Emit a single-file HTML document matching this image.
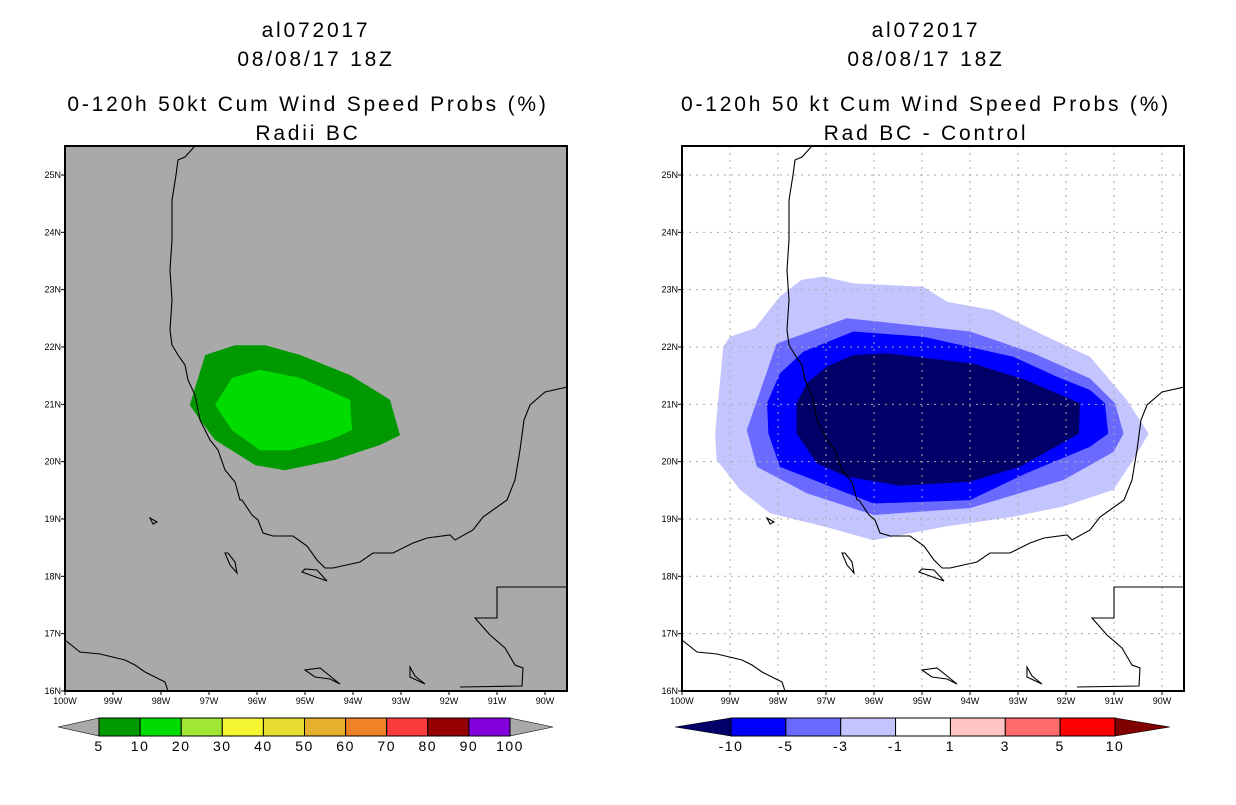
<!DOCTYPE html>
<html><head><meta charset="utf-8">
<style>
body{margin:0;background:#fff;width:1236px;height:800px;overflow:hidden;font-family:"Liberation Sans",sans-serif;}
svg text{font-family:"Liberation Sans",sans-serif;}
</style></head>
<body>
<svg id="root" width="1236" height="800" xmlns="http://www.w3.org/2000/svg">
<g font-size="21" letter-spacing="2.8" text-anchor="middle" fill="#000">
<text x="316" y="37">al072017</text>
<text x="316" y="66">08/08/17 18Z</text>
<text x="308" y="111">0-120h 50kt Cum Wind Speed Probs (%)</text>
<text x="308" y="140">Radii BC</text>
</g>
<g font-size="21" letter-spacing="2.8" text-anchor="middle" fill="#000">
<text x="926" y="37">al072017</text>
<text x="926" y="66">08/08/17 18Z</text>
<text x="926" y="111">0-120h 50 kt Cum Wind Speed Probs (%)</text>
<text x="926" y="140">Rad BC - Control</text>
</g>
<g id="left"></g>
<g id="right"></g>
<g id="cbl"></g>
<g id="cbr"></g>
</svg>
<script>
// Contour data (lon degrees W, lat degrees N)
const leftOuterLon=[97.4,97.08,96.46,95.83,95.1,94.06,93.23,93.02,93.44,94.38,95.42,96.04,96.875,97.19];
const leftOuterLat=[20.99,21.86,22.03,22.03,21.86,21.51,21.08,20.46,20.29,20.03,19.85,19.94,20.38,20.73];
const leftInnerLon=[96.875,96.52,95.94,95.1,94.06,94.02,94.48,95.31,95.94,96.52];
const leftInnerLat=[20.99,21.46,21.6,21.46,21.08,20.55,20.38,20.2,20.2,20.55];
const r1Lon=[99.31,99.14,99.0,98.48,97.96,97.51,97.05,96.43,94.97,94.48,93.51,92.40,91.5,90.73,90.28,90.6,91.01,92.05,93.1,94.49,96.01,97.05,98.17,98.79,99.28];
const r1Lat=[20.49,22.01,22.18,22.33,22.88,23.17,23.23,23.11,23.05,22.79,22.64,22.18,21.83,21.07,20.49,20.03,19.51,19.22,19.04,18.87,18.63,18.87,19.1,19.51,20.03];
const r2Lon=[98.65,98.03,96.57,95.87,94.0,92.68,91.5,90.98,90.8,91.01,92.05,94.0,96.01,97.4,98.44];
const r2Lat=[20.55,22.06,22.5,22.44,22.27,21.89,21.45,21.02,20.49,20.17,19.68,19.19,19.07,19.45,19.91];
const r3Lon=[98.23,97.96,97.47,96.43,94.97,93.1,92.19,91.5,91.19,91.12,91.5,92.82,94.0,96.01,97.96,98.2];
const r3Lat=[21.02,21.54,21.92,22.27,22.18,21.83,21.48,21.25,21.02,20.49,20.26,19.8,19.33,19.27,19.91,20.49];
const r4Lon=[97.61,97.4,96.98,96.43,95.73,93.93,92.82,91.71,91.73,92.96,94.0,95.46,96.57,97.19,97.61];
const r4Lat=[21.02,21.37,21.66,21.86,21.89,21.71,21.42,21.02,20.49,19.91,19.65,19.58,19.74,19.97,20.49];
const latTicks=[25,24,23,22,21,20,19,18,17,16];
const lonTicks=[100,99,98,97,96,95,94,93,92,91,90];
const leftLevels=["5","10","20","30","40","50","60","70","80","90","100"];
const leftColors=["#009a00","#00dc00","#a0e632","#f5f532","#e6dc32","#e6af2d","#f08228","#fa3c3c","#960000","#8200dc"];
const rightLevels=["-10","-5","-3","-1","1","3","5","10"];
const rightColors=["#0000ff","#6a6aff","#c4c4ff","#ffffff","#ffc4c4","#ff6a6a","#ff0000"];

const NS="http://www.w3.org/2000/svg";
function mk(tag,attrs,parent){const e=document.createElementNS(NS,tag);for(const k in attrs)e.setAttribute(k,attrs[k]);parent.appendChild(e);return e;}
const W=502,H=545,PX=48.0,PY=57.33;
function xs(lon){return (100-lon)*PX;}
function ys(lat){return 29+(25-lat)*PY;}
function poly(lons,lats){return lons.map((l,i)=>xs(l).toFixed(1)+","+ys(lats[i]).toFixed(1)).join(" ");}
const coast="M130,0 L120,11 L113,14 L111,29 L107,54 L107,94 L105,124 L107,154 L105,184 L107,199 L113,209 L120,219 L123,234 L130,249 L135,274 L145,294 L153,304 L160,324 L170,336 L175,354 L177,354 L187,369 L193,374 L198,387 L208,390 L228,390 L242,400 L252,414 L260,422 L268,422 L295,416 L308,407 L328,407 L348,397 L362,392 L385,389 L390,394 L408,384 L418,371 L442,354 L450,334 L455,304 L459,274 L465,259 L480,246 L502,241 M502,441 L432,441 L432,472 L410,472 L425,489 L440,502 L450,519 L458,522 L457,540 L395,541 M0,494 L15,506 L35,508 L60,514 L70,519 L80,526 L100,536 L103,545 M85,372 L92,376 L88,378 Z M160,407 L165,419 L172,427 L170,416 L163,407 Z M237,426 L248,430 L262,435 L252,424 L240,423 Z M240,524 L250,531 L265,533 L275,538 L255,522 Z M345,521 L350,530 L360,538 L345,531 Z";
function drawMap(g,ox,oy,bg,grid){
  mk("rect",{x:ox,y:oy,width:W,height:H,fill:bg},g);
  const cg=mk("g",{transform:`translate(${ox},${oy})`},g);
  const clip=mk("clipPath",{id:"c"+ox},g);mk("rect",{x:0,y:0,width:W,height:H},clip);
  cg.setAttribute("clip-path",`url(#c${ox})`);
  const fills=mk("g",{},cg);
  if(grid){
    lonTicks.forEach(l=>{const gl=mk("line",{x1:xs(l),y1:0,x2:xs(l),y2:H,stroke:"#aaa","stroke-dasharray":"2,5"},cg);});
    latTicks.forEach(l=>{const gl=mk("line",{x1:0,y1:ys(l),x2:W,y2:ys(l),stroke:"#aaa","stroke-dasharray":"2,5"},cg);});
  }
  const cst=mk("path",{d:coast,fill:"none",stroke:"#000","stroke-width":1.1},cg);
  
  
  const fr=mk("rect",{x:ox,y:oy,width:W,height:H,fill:"none",stroke:"#000","stroke-width":2},g);
  
  
  latTicks.forEach(l=>{const y=oy+ys(l);
    mk("line",{x1:ox-4,y1:y,x2:ox,y2:y,stroke:"#000"},g);
    const t=mk("text",{x:ox-4,y:y+3,"font-size":9,"text-anchor":"end"},g);t.textContent=l+"N";
    });
  lonTicks.forEach(l=>{const x=ox+xs(l);
    mk("line",{x1:x,y1:oy+H,x2:x,y2:oy+H+4,stroke:"#000"},g);
    const t=mk("text",{x:x,y:oy+H+13,"font-size":9,"text-anchor":"middle"},g);t.textContent=l+"W";
    });
  return fills;
}
const L=drawMap(document.getElementById("left"),65,146,"#a9a9a9",false);
let p=mk("polygon",{points:poly(leftOuterLon,leftOuterLat),fill:"#009a00"},L);

p=mk("polygon",{points:poly(leftInnerLon,leftInnerLat),fill:"#00dc00"},L);

const R=drawMap(document.getElementById("right"),682,146,"#ffffff",true);
[[r1Lon,r1Lat,"#c4c4ff","contour-minus1"],[r2Lon,r2Lat,"#6a6aff","contour-minus3"],[r3Lon,r3Lat,"#0000ff","contour-minus5"],[r4Lon,r4Lat,"#000068","contour-minus10"]].forEach(a=>{
  const q=mk("polygon",{points:poly(a[0],a[1]),fill:a[2]},R);
  
  
});
function colorbar(g,x0,x1,tl,tr,colors,levels,lc,rc){
  const n=colors.length,bw=(x1-x0)/n,y0=718,y1=736,ym=727;
  let t=mk("polygon",{points:`${tl},${ym} ${x0},${y0} ${x0},${y1}`,fill:lc,stroke:"#000","stroke-width":0.6},g);
  
  t=mk("polygon",{points:`${tr},${ym} ${x1},${y0} ${x1},${y1}`,fill:rc,stroke:"#000","stroke-width":0.6},g);
  
  colors.forEach((c,i)=>{const r=mk("rect",{x:x0+i*bw,y:y0,width:bw,height:y1-y0,fill:c,stroke:"#000","stroke-width":1},g);
    });
  levels.forEach((l,i)=>{const tx=mk("text",{x:x0+i*bw,y:751,"font-size":14,"letter-spacing":1.5,"text-anchor":"middle"},g);tx.textContent=l;
    });
}
colorbar(document.getElementById("cbl"),99,510,58,553,leftColors,leftLevels,"#a9a9a9","#a9a9a9");
colorbar(document.getElementById("cbr"),731,1115,675,1170,rightColors,rightLevels,"#000068","#800000");
</script>
</body></html>
